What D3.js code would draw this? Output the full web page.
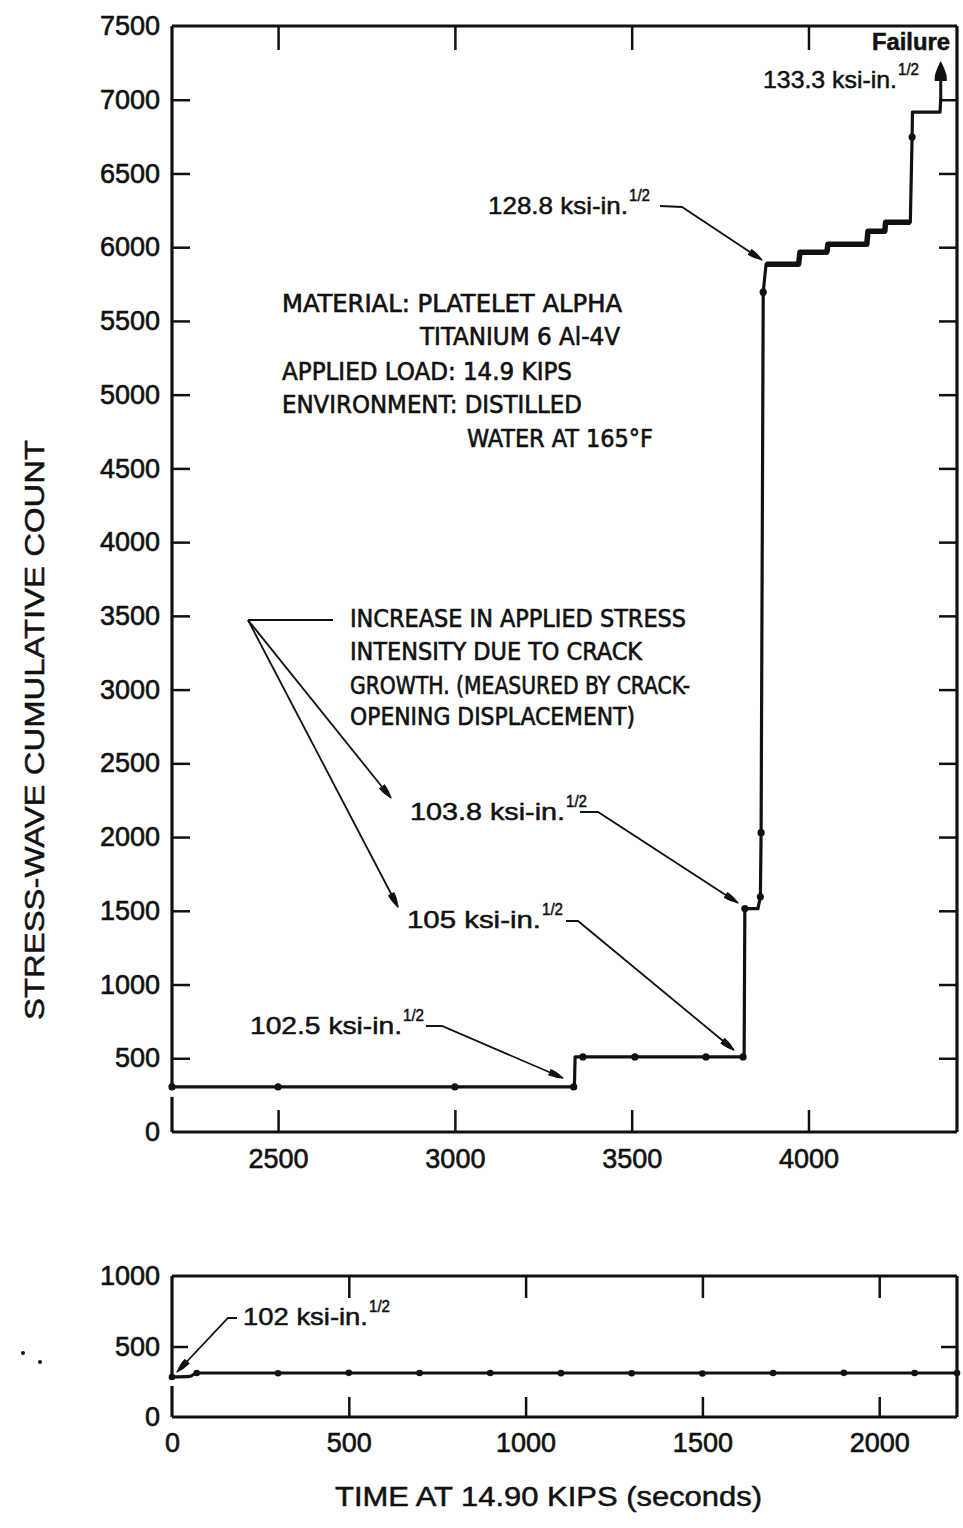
<!DOCTYPE html>
<html>
<head>
<meta charset="utf-8" />
<script src="https://cdnjs.cloudflare.com/ajax/libs/d3/7.8.5/d3.min.js"></script>
<style>
    body { margin: 0; background: #fff; }
    svg { display: block; }
    .tk text { font-family: "Liberation Sans", Arial, sans-serif; font-size: 27px; fill: #111; stroke: #111; stroke-width: 0.6px; }
    .tk line { stroke: #111; stroke-width: 2.5px; }
    .tk path { display: none; }
    .note { font-family: "Liberation Sans Narrow", "DejaVu Sans Condensed", "Liberation Sans", sans-serif; fill: #111; stroke: #111; stroke-width: 0.6px; }
    .sans { font-family: "Liberation Sans", Arial, sans-serif; fill: #111; stroke: #111; stroke-width: 0.5px; }
</style>
</head>
<body>
<script>
    // upper panel, staircase (seconds, counts)
    var topTime  = [2200, 3338, 3340, 3818, 3820, 3857, 3864, 3866, 3872, 3880, 3972, 3976, 4052, 4055, 4165, 4168, 4216, 4218, 4288, 4293, 4294, 4372, 4374];
    var topCount = [306,  306,  509,  509,  1515, 1515, 1595, 2030, 5695, 5885, 5885, 5966, 5966, 6020, 6020, 6109, 6109, 6170, 6170, 6747, 6916, 6916, 7005];

    // points marked with a dot on the upper trace
    var topDotTime  = [2200, 2500, 3000, 3336, 3362, 3509, 3710, 3815, 3820, 3864, 3866, 3872, 4293];
    var topDotCount = [306,  306,  306,  306,  509,  509,  509,  509,  1515, 1595, 2030, 5695, 6747];

    // failure point
    var failTime = 4374, failCount = 7263;

    // lower panel
    var botTime  = [0,   50,  70,  2220];
    var botCount = [284, 288, 312, 312];
    var botDotTime = [0, 70, 300, 500, 700, 900, 1100, 1300, 1500, 1700, 1900, 2100, 2220];
    var botDotCount = [284, 312, 310, 313, 312, 312, 311, 310, 309, 312, 313, 312, 312];

    var topYTicks = [0, 500, 1000, 1500, 2000, 2500, 3000, 3500, 4000, 4500, 5000, 5500, 6000, 6500, 7000, 7500];
    var topXTicks = [2500, 3000, 3500, 4000];
    var botXTicks = [0, 500, 1000, 1500, 2000];
    var botYTicks = [0, 500, 1000];

    var svg = d3.select('body').append('svg').attr('width', 963).attr('height', 1528);

    var xTop = d3.scaleLinear().domain([2200, 4420]).range([172, 957]);
    var yTop = d3.scaleLinear().domain([0, 7500]).range([1132, 26]);
    var xBot = d3.scaleLinear().domain([0, 2220]).range([172, 957]);
    var yBot = d3.scaleLinear().domain([0, 1000]).range([1417, 1276]);

    var defs = svg.append('defs');
    defs.append('marker').attr('id', 'arr')
        .attr('viewBox', '0 -4 16 8').attr('refX', 15).attr('refY', 0)
        .attr('markerWidth', 16).attr('markerHeight', 8)
        .attr('markerUnits', 'userSpaceOnUse').attr('orient', 'auto')
        .append('path').attr('d', 'M0,-3.5 Q8,-3.5 16,0 Q8,3.5 0,3.5 Z').attr('fill', '#111');

    // frame + inner ticks for a panel
    function panel(x, y, xt, yt, tl, pad) {
        var x0 = x.range()[0], x1 = x.range()[1], y0 = y.range()[0], y1 = y.range()[1];
        var g = svg.append('g');
        g.append('line').attr('x1', x0).attr('x2', x1).attr('y1', y1).attr('y2', y1);
        g.append('line').attr('x1', x0).attr('x2', x1).attr('y1', y0).attr('y2', y0);
        g.append('line').attr('x1', x1).attr('x2', x1).attr('y1', y1).attr('y2', y0);
        g.selectAll('line').attr('stroke', '#111').attr('stroke-width', 3.2);

        var inner = yt.filter(function (d) { return d > y.domain()[0] && d < y.domain()[1]; });
        svg.append('g').attr('class', 'tk').attr('transform', 'translate(' + x0 + ',0)')
            .call(d3.axisRight(y).tickValues(inner).tickSize(tl).tickFormat(''));
        svg.append('g').attr('class', 'tk').attr('transform', 'translate(' + x1 + ',0)')
            .call(d3.axisLeft(y).tickValues(inner).tickSize(tl).tickFormat(''));
        var xin = xt.filter(function (d) { return d > x.domain()[0]; });
        svg.append('g').attr('class', 'tk').attr('transform', 'translate(0,' + y1 + ')')
            .call(d3.axisBottom(x).tickValues(xin).tickSize(tl + 6).tickFormat(''));
        svg.append('g').attr('class', 'tk').attr('transform', 'translate(0,' + y0 + ')')
            .call(d3.axisTop(x).tickValues(xin).tickSize(tl + 4).tickFormat(''));

        // labels
        svg.append('g').attr('class', 'tk').attr('transform', 'translate(' + (x0 - 12) + ',0)')
            .call(d3.axisLeft(y).tickValues(yt).tickSize(0).tickPadding(0).tickFormat(d3.format('d')));
        svg.append('g').attr('class', 'tk').attr('transform', 'translate(0,' + (y0 + pad) + ')')
            .call(d3.axisBottom(x).tickValues(xt).tickSize(0).tickPadding(0).tickFormat(d3.format('d')));
    }

    panel(xTop, yTop, topXTicks, topYTicks, 18, 17);
    panel(xBot, yBot, botXTicks, botYTicks, 16, 16);

    // left axis lines, broken just under the trace
    svg.append('line').attr('x1', 172).attr('x2', 172).attr('y1', yTop(7500)).attr('y2', yTop(topCount[0]) + 3)
        .attr('stroke', '#111').attr('stroke-width', 3.2);
    svg.append('line').attr('x1', 172).attr('x2', 172).attr('y1', yTop(topCount[0]) + 10).attr('y2', yTop(0))
        .attr('stroke', '#111').attr('stroke-width', 3.2);
    svg.append('line').attr('x1', 172).attr('x2', 172).attr('y1', yBot(1000)).attr('y2', yBot(botCount[0]) + 2)
        .attr('stroke', '#111').attr('stroke-width', 3.2);
    svg.append('line').attr('x1', 172).attr('x2', 172).attr('y1', yBot(botCount[0]) + 9).attr('y2', yBot(0))
        .attr('stroke', '#111').attr('stroke-width', 3.2);

    // traces
    var topPts = topTime.map(function (t, i) { return [t, topCount[i]]; });
    var lineTop = d3.line().x(function (d) { return xTop(d[0]); }).y(function (d) { return yTop(d[1]); });
    svg.append('path').attr('d', lineTop(topPts)).attr('fill', 'none')
        .attr('stroke', '#111').attr('stroke-width', 3.2).attr('stroke-linejoin', 'round');
    svg.append('path').attr('d', lineTop(topPts.slice(9, 19))).attr('fill', 'none')
        .attr('stroke', '#111').attr('stroke-width', 5.5).attr('stroke-linejoin', 'round');
    svg.selectAll('.dt').data(topDotTime).enter().append('circle')
        .attr('cx', function (d) { return xTop(d); })
        .attr('cy', function (d, i) { return yTop(topDotCount[i]); })
        .attr('r', 3.6).attr('fill', '#111');

    // failure arrow
    var last = topPts[topPts.length - 1];
    var fx = xTop(failTime), fy = yTop(failCount);
    svg.append('line').attr('x1', fx).attr('x2', fx).attr('y1', yTop(last[1])).attr('y2', fy + 18)
        .attr('stroke', '#111').attr('stroke-width', 3);
    svg.append('path')
        .attr('d', 'M' + fx + ',' + fy + ' C' + (fx + 3) + ',' + (fy + 6) + ' ' + (fx + 7) + ',' + (fy + 14) + ' ' + (fx + 6) + ',' + (fy + 20)
            + ' L' + (fx - 6) + ',' + (fy + 20) + ' C' + (fx - 7) + ',' + (fy + 14) + ' ' + (fx - 3) + ',' + (fy + 6) + ' ' + fx + ',' + fy + ' Z')
        .attr('fill', '#111');

    var botPts = botTime.map(function (t, i) { return [t, botCount[i]]; });
    var lineBot = d3.line().x(function (d) { return xBot(d[0]); }).y(function (d) { return yBot(d[1]); })
        .curve(d3.curveMonotoneX);
    svg.append('path').attr('d', lineBot(botPts)).attr('fill', 'none')
        .attr('stroke', '#111').attr('stroke-width', 3.2);
    svg.selectAll('.db').data(botDotTime).enter().append('circle')
        .attr('cx', function (d) { return xBot(d); })
        .attr('cy', function (d, i) { return yBot(botDotCount[i]); })
        .attr('r', 3.3).attr('fill', '#111');

    // text helpers
    function txt(x, y, s, w, size, cls, weight) {
        var t = svg.append('text').attr('class', cls || 'sans').attr('x', x).attr('y', y)
            .style('font-size', size + 'px').text(s);
        if (w) t.attr('textLength', w).attr('lengthAdjust', 'spacingAndGlyphs');
        if (weight) t.style('font-weight', weight);
        return t;
    }
    function ksi(x, y, s, w) {
        txt(x, y, s, w, 24);
        txt(x + w + 1, y - 13, '1/2', 21, 16);
    }
    function leader(pts, arrow) {
        var p = svg.append('path').attr('d', d3.line()(pts)).attr('fill', 'none')
            .attr('stroke', '#111').attr('stroke-width', 1.8);
        if (arrow) p.attr('marker-end', 'url(#arr)');
    }

    txt(872, 50, 'Failure', 78, 23, 'sans', 'bold');
    ksi(763, 88, '133.3 ksi-in.', 134);

    ksi(488, 214, '128.8 ksi-in.', 140);
    leader([[660, 206], [682, 207], [762, 260]], true);

    txt(282, 312, 'MATERIAL:  PLATELET ALPHA', 340, 25, 'note');
    txt(420, 345, 'TITANIUM 6 Al-4V', 200, 25, 'note');
    txt(282, 380, 'APPLIED LOAD:  14.9 KIPS', 290, 25, 'note');
    txt(282, 413, 'ENVIRONMENT:  DISTILLED', 300, 25, 'note');
    txt(467, 447, 'WATER AT 165°F', 186, 25, 'note');

    txt(350, 627, 'INCREASE IN APPLIED STRESS', 336, 25, 'note');
    txt(350, 660, 'INTENSITY DUE TO CRACK', 292, 25, 'note');
    txt(350, 694, 'GROWTH. (MEASURED BY CRACK-', 340, 25, 'note');
    txt(350, 725, 'OPENING DISPLACEMENT)', 285, 25, 'note');
    leader([[333, 620], [248, 620]], false);
    leader([[248, 620], [391, 798]], true);
    leader([[248, 620], [398, 907]], true);

    ksi(410, 820, '103.8 ksi-in.', 155);
    leader([[580, 812], [598, 812], [738, 903]], true);

    ksi(407, 928, '105 ksi-in.', 134);
    leader([[566, 921], [578, 921], [734, 1050]], true);

    ksi(250, 1034, '102.5 ksi-in.', 152);
    leader([[426, 1026], [442, 1026], [563, 1078]], true);

    ksi(243, 1325, '102 ksi-in.', 125);
    leader([[237, 1318], [228, 1318], [177, 1372]], true);

    // axis titles
    txt(0, 0, 'STRESS-WAVE CUMULATIVE COUNT', 580, 28, 'sans')
        .attr('transform', 'translate(44,1020) rotate(-90)');
    txt(335, 1506, 'TIME AT 14.90 KIPS (seconds)', 427, 27, 'sans');

    // stray specks on the scan
    svg.append('circle').attr('cx', 23).attr('cy', 1353).attr('r', 2).attr('fill', '#111');
    svg.append('circle').attr('cx', 40).attr('cy', 1362).attr('r', 2).attr('fill', '#111');
</script>
</body>
</html>
